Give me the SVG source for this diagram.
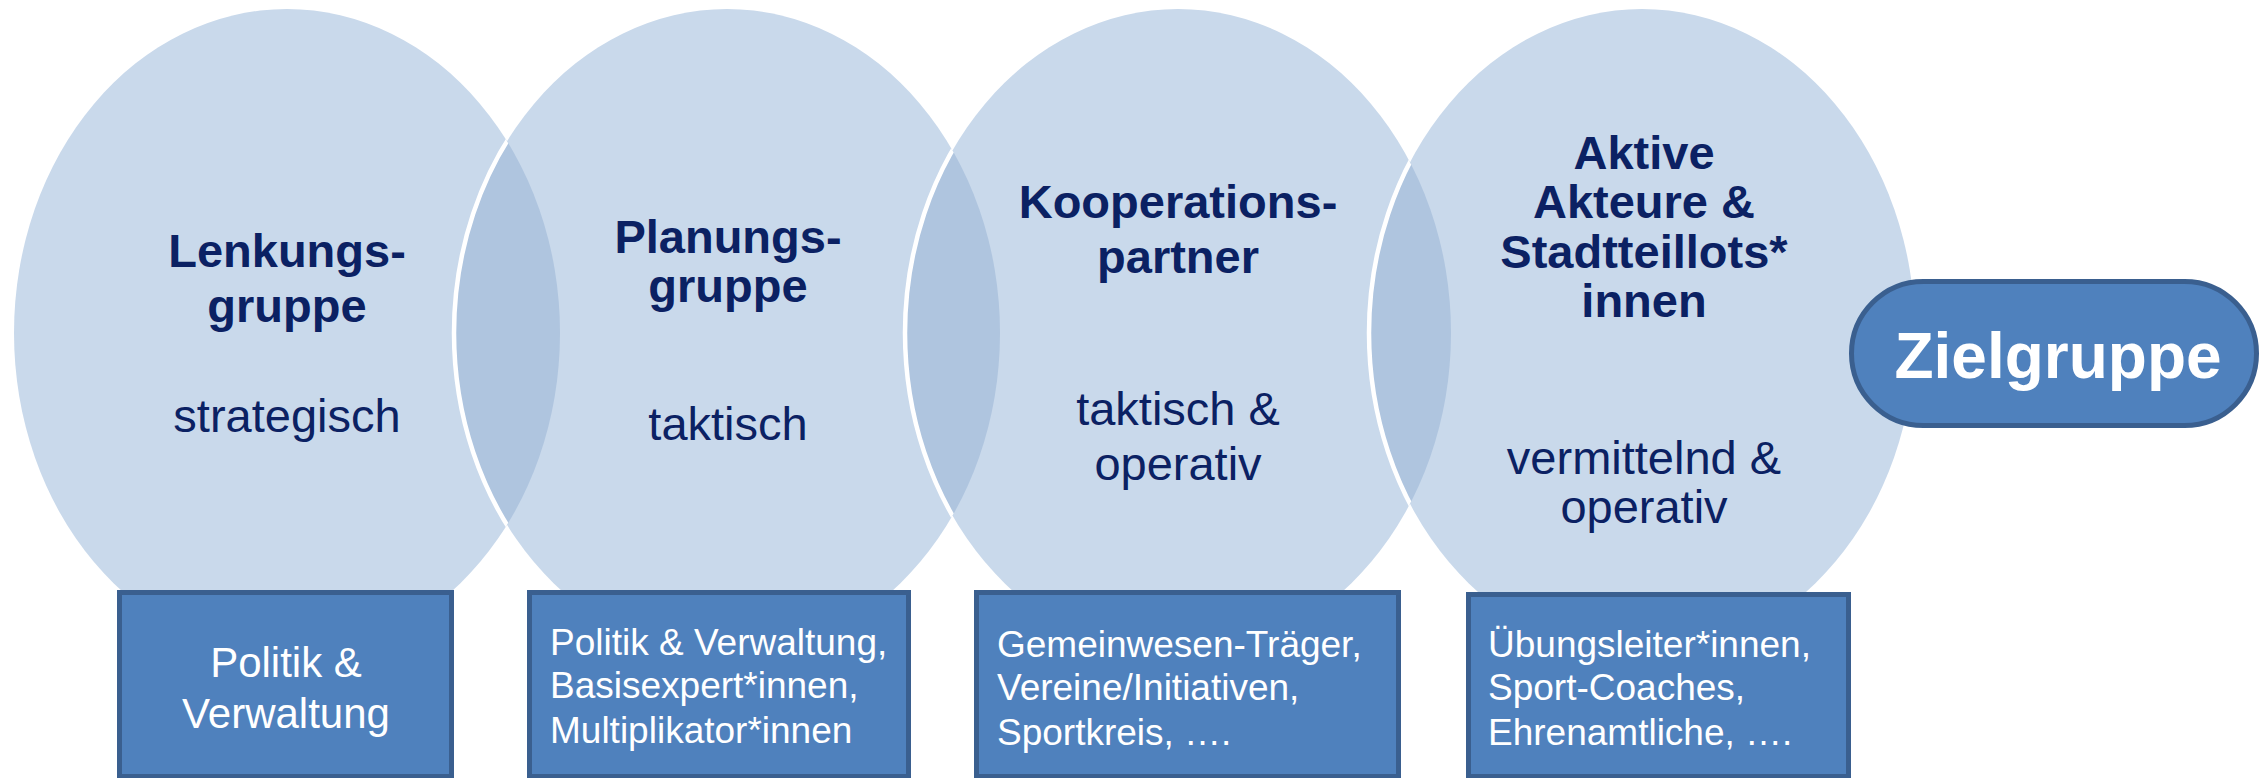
<svg xmlns="http://www.w3.org/2000/svg" width="2259" height="778" viewBox="0 0 2259 778">
  <style>
    .bubble { fill: #C9D9EB; }
    .lens { fill: #AFC5DF; }
    .seam { fill: none; stroke: #FFFFFF; stroke-width: 4.5; }
    .title { font-family: "Liberation Sans", Arial, sans-serif; font-weight: bold; font-size: 47px; fill: #0B2163; text-anchor: middle; }
    .sub { font-family: "Liberation Sans", Arial, sans-serif; font-size: 47px; fill: #0B2163; text-anchor: middle; }
    .card { fill: #4F81BD; stroke: #3A5F8F; stroke-width: 5; }
    .card-text { font-family: "Liberation Sans", Arial, sans-serif; font-size: 37px; fill: #FFFFFF; }
    .card-text-lg { font-family: "Liberation Sans", Arial, sans-serif; font-size: 42px; fill: #FFFFFF; text-anchor: middle; }
    .goal { fill: #4F81BD; stroke: #3A5F8F; stroke-width: 5; }
    .goal-text { font-family: "Liberation Sans", Arial, sans-serif; font-weight: bold; font-size: 64px; fill: #FFFFFF; text-anchor: middle; }
  </style>
  <defs>
    <clipPath id="clip-e1"><ellipse cx="287" cy="333" rx="273" ry="324"/></clipPath>
    <clipPath id="clip-e2"><ellipse cx="727" cy="333" rx="273" ry="324"/></clipPath>
    <clipPath id="clip-e3"><ellipse cx="1178" cy="333" rx="273" ry="324"/></clipPath>
    <clipPath id="clip-e4"><ellipse cx="1642" cy="333" rx="273" ry="324"/></clipPath>
  </defs>

  <rect width="2259" height="778" fill="#FFFFFF"/>

  <!-- overlapping ovals -->
  <g id="ovals">
    <ellipse class="bubble" cx="287" cy="333" rx="273" ry="324"/>
    <ellipse class="bubble" cx="727" cy="333" rx="273" ry="324"/>
    <ellipse class="bubble" cx="1178" cy="333" rx="273" ry="324"/>
    <ellipse class="bubble" cx="1642" cy="333" rx="273" ry="324"/>
  </g>

  <!-- darker intersections with a white seam on the left arc -->
  <g id="overlaps">
    <ellipse class="lens" cx="287" cy="333" rx="273" ry="324" clip-path="url(#clip-e2)"/>
    <ellipse class="lens" cx="727" cy="333" rx="273" ry="324" clip-path="url(#clip-e3)"/>
    <ellipse class="lens" cx="1178" cy="333" rx="273" ry="324" clip-path="url(#clip-e4)"/>
    <ellipse class="seam" cx="727" cy="333" rx="273" ry="324" clip-path="url(#clip-e1)"/>
    <ellipse class="seam" cx="1178" cy="333" rx="273" ry="324" clip-path="url(#clip-e2)"/>
    <ellipse class="seam" cx="1642" cy="333" rx="273" ry="324" clip-path="url(#clip-e3)"/>
  </g>

  <g id="connectors"></g>

  <g id="node-lenkungsgruppe">
    <text class="title" x="287" y="267">Lenkungs-</text>
    <text class="title" x="287" y="322">gruppe</text>
    <text class="sub" x="287" y="432">strategisch</text>
  </g>

  <g id="node-planungsgruppe">
    <text class="title" x="728" y="253">Planungs-</text>
    <text class="title" x="728" y="302">gruppe</text>
    <text class="sub" x="728" y="440">taktisch</text>
  </g>

  <g id="node-kooperationspartner">
    <text class="title" x="1178" y="218">Kooperations-</text>
    <text class="title" x="1178" y="273">partner</text>
    <text class="sub" x="1178" y="425">taktisch &amp;</text>
    <text class="sub" x="1178" y="480">operativ</text>
  </g>

  <g id="node-aktive-akteure">
    <text class="title" x="1644" y="169">Aktive</text>
    <text class="title" x="1644" y="218">Akteure &amp;</text>
    <text class="title" x="1644" y="268">Stadtteillots*</text>
    <text class="title" x="1644" y="317">innen</text>
    <text class="sub" x="1644" y="474">vermittelnd &amp;</text>
    <text class="sub" x="1644" y="523">operativ</text>
  </g>

  <g id="node-box-politik">
    <rect class="card" x="119.5" y="592.5" width="332" height="184"/>
    <text class="card-text-lg" x="286" y="677">Politik &amp;</text>
    <text class="card-text-lg" x="286" y="728">Verwaltung</text>
  </g>

  <g id="node-box-planung">
    <rect class="card" x="529.5" y="592.5" width="379" height="184"/>
    <text class="card-text" x="550" y="655">Politik &amp; Verwaltung,</text>
    <text class="card-text" x="550" y="698">Basisexpert*innen,</text>
    <text class="card-text" x="550" y="743">Multiplikator*innen</text>
  </g>

  <g id="node-box-kooperation">
    <rect class="card" x="976.5" y="592.5" width="422" height="184"/>
    <text class="card-text" x="997" y="657">Gemeinwesen-Träger,</text>
    <text class="card-text" x="997" y="700">Vereine/Initiativen,</text>
    <text class="card-text" x="997" y="745">Sportkreis, ….</text>
  </g>

  <g id="node-box-akteure">
    <rect class="card" x="1468.5" y="594.5" width="380" height="182"/>
    <text class="card-text" x="1488" y="657">Übungsleiter*innen,</text>
    <text class="card-text" x="1488" y="700">Sport-Coaches,</text>
    <text class="card-text" x="1488" y="745">Ehrenamtliche, ….</text>
  </g>

  <g id="node-zielgruppe">
    <rect class="goal" x="1851.5" y="281.5" width="405" height="144" rx="72" ry="72"/>
    <text class="goal-text" x="2058" y="378">Zielgruppe</text>
  </g>
</svg>
